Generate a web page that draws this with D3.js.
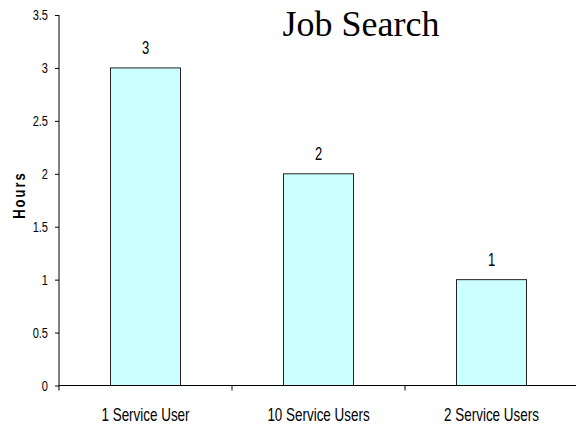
<!DOCTYPE html>
<html>
<head>
  <meta charset="utf-8">
  <script src="https://cdnjs.cloudflare.com/ajax/libs/d3/7.8.5/d3.min.js"></script>
  <style>
    body { margin: 0; background: #fff; }
    text { font-family: "Liberation Sans", Arial, sans-serif; fill: #000; }
    .bar { fill: #CCFFFF; stroke: #222; stroke-width: 1px; }
  </style>
</head>
<body>
  <svg id="chart" width="576" height="425"></svg>
  <script>
    var categories = ["1 Service User", "10 Service Users", "2 Service Users"];
    var hours = [3, 2, 1];
    var yTicks = [0, 0.5, 1, 1.5, 2, 2.5, 3, 3.5];

    var svg = d3.select("#chart");
    var plotL = 59, plotR = 578, plotT = 15, plotB = 385.5;

    var x = d3.scaleBand().domain(categories).range([plotL, plotR]).paddingInner(0).paddingOuter(0);
    var y = d3.scaleLinear().domain([0, 3.5]).range([plotB, plotT]);
    var barW = 70;

    // bars
    svg.append("g").selectAll("rect")
      .data(hours)
      .enter()
      .append("rect")
      .attr("class", "bar")
      .attr("x", (d, i) => x(categories[i]) + x.bandwidth() / 2 - barW / 2)
      .attr("y", d => y(d))
      .attr("width", barW)
      .attr("height", d => plotB - y(d));

    // value labels (the original text is drawn tall and narrow)
    svg.append("g").selectAll("text")
      .data(hours)
      .enter()
      .append("text")
      .attr("transform", (d, i) => `translate(${x(categories[i]) + x.bandwidth() / 2},${y(d) - 14}) scale(1,1.35)`)
      .attr("text-anchor", "middle")
      .style("font-size", "13px")
      .text(d => d);

    // y axis
    var yAxis = d3.axisLeft(y).tickValues(yTicks).tickSize(4).tickFormat(d3.format("~g"));
    var gy = svg.append("g").attr("transform", `translate(${plotL},0)`).call(yAxis);
    gy.select(".domain").remove();
    gy.selectAll(".tick line").attr("stroke", "#000");
    gy.selectAll(".tick text")
      .style("font-size", "12px")
      .attr("font-family", null)
      .attr("x", 0)
      .attr("transform", "translate(-11,0) scale(0.92,1.2)");
    svg.append("line")
      .attr("x1", plotL).attr("x2", plotL)
      .attr("y1", plotT).attr("y2", plotB + 5)
      .attr("stroke", "#000");

    // x axis
    svg.append("line")
      .attr("x1", plotL).attr("x2", 576)
      .attr("y1", plotB).attr("y2", plotB)
      .attr("stroke", "#000");
    svg.append("g").selectAll("line")
      .data(categories.slice(1))
      .enter()
      .append("line")
      .attr("x1", d => x(d)).attr("x2", d => x(d))
      .attr("y1", plotB).attr("y2", plotB + 5)
      .attr("stroke", "#000");
    svg.append("g").selectAll("text")
      .data(categories)
      .enter()
      .append("text")
      .attr("transform", d => `translate(${x(d) + x.bandwidth() / 2},421) scale(0.96,1.3)`)
      .attr("text-anchor", "middle")
      .style("font-size", "14px")
      .text(d => d);

    // axis title
    svg.append("text")
      .attr("transform", "translate(25,195) rotate(-90) scale(1,1.2)")
      .attr("text-anchor", "middle")
      .style("font-size", "13px")
      .style("font-weight", "bold")
      .style("letter-spacing", "2px")
      .text("Hours");

    // chart title
    svg.append("text")
      .attr("x", 361)
      .attr("y", 36)
      .attr("text-anchor", "middle")
      .style("font-family", "'Liberation Serif', 'Times New Roman', serif")
      .style("font-size", "36px")
      .text("Job Search");
  </script>
</body>
</html>
